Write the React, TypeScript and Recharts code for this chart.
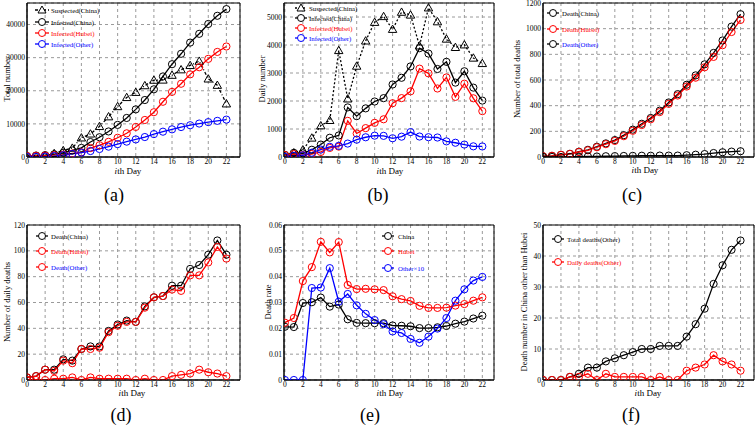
import React from 'react';
import { LineChart, Line, XAxis, YAxis, CartesianGrid, ReferenceArea } from 'recharts';

// ---------------- data ----------------
const days = [0, 1, 2, 3, 4, 5, 6, 7, 8, 9, 10, 11, 12, 13, 14, 15, 16, 17, 18, 19, 20, 21, 22];
const xTickLabels = [0, 2, 4, 6, 8, 10, 12, 14, 16, 18, 20, 22];

// (a) cumulative numbers
const suspectedTotal = [54, 37, 393, 1072, 1965, 2684, 5794, 6973, 9239, 12167, 15238, 17988, 19544, 21558, 23214, 23260, 24702, 26359, 27657, 28942, 23589, 21675, 16067];
const infectedChinaTotal = [291, 440, 571, 830, 1287, 1975, 2744, 4515, 5974, 7711, 9692, 11791, 14380, 17205, 20438, 24324, 28018, 31161, 34546, 37198, 40171, 42638, 44653];
const infectedHubeiTotal = [270, 375, 444, 549, 729, 1052, 1423, 2714, 3554, 4586, 5806, 7153, 9074, 11177, 13522, 16678, 19665, 22112, 24953, 27100, 29631, 31728, 33366];
const infectedOtherTotal = [21, 65, 127, 281, 558, 923, 1321, 1801, 2420, 3125, 3886, 4638, 5306, 6028, 6916, 7646, 8353, 9049, 9593, 10098, 10540, 10910, 11287];

// (b) daily numbers
const suspectedDaily = [27, 150, 257, 680, 1118, 1309, 3806, 2077, 3248, 4148, 4812, 5019, 4562, 5173, 5072, 3971, 5328, 4833, 4214, 3916, 4008, 3536, 3342];
const infectedChinaDaily = [77, 149, 131, 259, 444, 688, 769, 1771, 1459, 1737, 1982, 2102, 2590, 2829, 3235, 3887, 3694, 3143, 3399, 2656, 3062, 2478, 2015];
const infectedHubeiDaily = [72, 105, 69, 105, 180, 323, 371, 1291, 840, 1032, 1220, 1347, 1921, 2103, 2345, 3156, 2987, 2447, 2841, 2147, 2618, 2097, 1638];
const infectedOtherDaily = [5, 44, 62, 154, 264, 365, 398, 480, 619, 705, 762, 755, 669, 726, 890, 731, 707, 696, 558, 509, 444, 381, 377];

// (c) cumulative deaths
const deathChinaTotal = [6, 9, 17, 25, 41, 56, 80, 106, 132, 170, 213, 259, 304, 361, 425, 490, 563, 636, 722, 811, 908, 1016, 1113];
const deathHubeiTotal = [6, 9, 17, 24, 39, 52, 76, 100, 125, 162, 204, 249, 294, 350, 414, 479, 549, 618, 699, 780, 871, 974, 1068];
const deathOtherTotal = [0, 0, 0, 1, 2, 4, 4, 6, 7, 8, 9, 10, 10, 11, 11, 11, 14, 18, 23, 31, 37, 42, 45];

// (d) daily deaths
const deathChinaDaily = [2, 3, 8, 8, 16, 15, 24, 26, 26, 38, 43, 46, 45, 57, 64, 65, 73, 73, 86, 89, 97, 108, 97];
const deathHubeiDaily = [2, 3, 8, 7, 15, 13, 24, 24, 25, 37, 42, 45, 45, 56, 64, 65, 70, 69, 81, 81, 91, 103, 94];
const deathOtherDaily = [0, 0, 0, 1, 1, 2, 0, 2, 1, 1, 1, 1, 0, 1, 0, 0, 3, 4, 5, 8, 6, 5, 3];

// (e) death rates
const rateChina = [0.0206, 0.0205, 0.0298, 0.0301, 0.0319, 0.0284, 0.0292, 0.0235, 0.0221, 0.022, 0.022, 0.022, 0.0211, 0.021, 0.0208, 0.0201, 0.0201, 0.0204, 0.0209, 0.0218, 0.0226, 0.0238, 0.0249];
const rateHubei = [0.0222, 0.024, 0.0383, 0.0437, 0.0535, 0.0494, 0.0534, 0.0368, 0.0352, 0.0353, 0.0351, 0.0348, 0.0324, 0.0313, 0.0306, 0.0287, 0.0279, 0.0279, 0.028, 0.0288, 0.0294, 0.0307, 0.032];
const rateOtherX10 = [0, 0, 0, 0.0356, 0.0358, 0.0433, 0.0303, 0.0333, 0.0289, 0.0256, 0.0232, 0.0216, 0.0188, 0.0182, 0.0159, 0.0144, 0.0168, 0.0199, 0.024, 0.0307, 0.0351, 0.0385, 0.0399];

// y tick labels
const yTicksA = [0, 10000, 20000, 30000, 40000];
const yTicksB = [0, 1000, 2000, 3000, 4000, 5000];
const yTicksC = [0, 200, 400, 600, 800, 1000, 1200];
const yTicksD = [0, 20, 40, 60, 80, 100, 120];
const yTicksE = [0, 0.01, 0.02, 0.03, 0.04, 0.05, 0.06];
const yTicksF = [0, 10, 20, 30, 40, 50];

// ---------------- styles ----------------
const FONT = '"Liberation Serif", "Times New Roman", serif';
const BLACK = '#000000';
const RED = '#ff0000';
const BLUE = '#0000ff';
const YW = 30;
const MT = 8;
const MR = 2;
const XH = 20;

type Marker = 'circle' | 'triangle';
type Series = { key: string; values: number[]; color: string; dash?: string; marker: Marker; name: string; textColor: string };
type PanelCfg = {
  id: string;
  plot: { x: number; y: number; w: number; h: number };
  xDomain: [number, number];
  yDomain: [number, number];
  yTicks: number[];
  yMinorStep: number;
  series: Series[];
  legend: { x0: number; x1: number; tx: number; rows: number[] };
  xTitle: { x: number; y: number };
  yTitle: { x: number; y: number; text: string };
  tag: { x: number; y: number; text: string };
};

const TriangleDot = (props: any) => {
  const { cx, cy, stroke, index } = props;
  if (cx == null || cy == null) return <g key={`t-${index}`} />;
  const s = 4.2;
  return (
    <polygon
      key={`t-${index}`}
      points={`${cx},${cy - s} ${cx - s},${cy + s * 0.75} ${cx + s},${cy + s * 0.75}`}
      fill="none"
      stroke={stroke}
      strokeWidth={1}
    />
  );
};

const panels: PanelCfg[] = [
  {
    id: 'a',
    plot: { x: 27, y: 3, w: 213, h: 154 },
    xDomain: [0, 23.5],
    yDomain: [0, 46500],
    yTicks: yTicksA,
    yMinorStep: 2000,
    series: [
      { key: 's', values: suspectedTotal, color: BLACK, dash: '3 2 1 2', marker: 'triangle', name: 'Suspected(China)', textColor: BLACK },
      { key: 'c', values: infectedChinaTotal, color: BLACK, marker: 'circle', name: 'Infected(China)', textColor: BLACK },
      { key: 'h', values: infectedHubeiTotal, color: RED, marker: 'circle', name: 'Infected(Hubei)', textColor: RED },
      { key: 'o', values: infectedOtherTotal, color: BLUE, marker: 'circle', name: 'Infected(Other)', textColor: BLUE },
    ],
    legend: { x0: 35, x1: 49, tx: 51, rows: [10, 22, 33, 44] },
    xTitle: { x: 128, y: 170.5 },
    yTitle: { x: 7, y: 79, text: 'Total number' },
    tag: { x: 114, y: 195, text: '(a)' },
  },
  {
    id: 'b',
    plot: { x: 284, y: 3, w: 210, h: 154 },
    xDomain: [-0.1, 23.3],
    yDomain: [0, 5500],
    yTicks: yTicksB,
    yMinorStep: 200,
    series: [
      { key: 's', values: suspectedDaily, color: BLACK, dash: '2 2', marker: 'triangle', name: 'Suspected(China)', textColor: BLACK },
      { key: 'c', values: infectedChinaDaily, color: BLACK, marker: 'circle', name: 'Infected(China)', textColor: BLACK },
      { key: 'h', values: infectedHubeiDaily, color: RED, marker: 'circle', name: 'Infected(Hubei)', textColor: RED },
      { key: 'o', values: infectedOtherDaily, color: BLUE, marker: 'circle', name: 'Infected(Other)', textColor: BLUE },
    ],
    legend: { x0: 295, x1: 307, tx: 309, rows: [8, 18, 28, 38] },
    xTitle: { x: 390, y: 170.5 },
    yTitle: { x: 262, y: 79, text: 'Daily number' },
    tag: { x: 378, y: 195, text: '(b)' },
  },
  {
    id: 'c',
    plot: { x: 543, y: 3, w: 211, h: 154 },
    xDomain: [0, 23.5],
    yDomain: [0, 1200],
    yTicks: yTicksC,
    yMinorStep: 40,
    series: [
      { key: 'c', values: deathChinaTotal, color: BLACK, marker: 'circle', name: 'Death(China)', textColor: BLACK },
      { key: 'h', values: deathHubeiTotal, color: RED, marker: 'circle', name: 'Death(Hubei)', textColor: RED },
      { key: 'o', values: deathOtherTotal, color: BLACK, marker: 'circle', name: 'Death(Other)', textColor: BLUE },
    ],
    legend: { x0: 547, x1: 559, tx: 562, rows: [13, 29, 44] },
    xTitle: { x: 645, y: 170 },
    yTitle: { x: 517, y: 79, text: 'Number of total deaths' },
    tag: { x: 632, y: 195, text: '(c)' },
  },
  {
    id: 'd',
    plot: { x: 27, y: 225, w: 213, h: 155 },
    xDomain: [0, 23.5],
    yDomain: [0, 120],
    yTicks: yTicksD,
    yMinorStep: 4,
    series: [
      { key: 'c', values: deathChinaDaily, color: BLACK, marker: 'circle', name: 'Death(China)', textColor: BLACK },
      { key: 'h', values: deathHubeiDaily, color: RED, marker: 'circle', name: 'Death(Hubei)', textColor: RED },
      { key: 'o', values: deathOtherDaily, color: RED, marker: 'circle', name: 'Death(Other)', textColor: BLUE },
    ],
    legend: { x0: 36, x1: 48, tx: 51, rows: [236, 251, 267] },
    xTitle: { x: 132, y: 393 },
    yTitle: { x: 7, y: 302, text: 'Number of daily deaths' },
    tag: { x: 121, y: 415, text: '(d)' },
  },
  {
    id: 'e',
    plot: { x: 284, y: 225, w: 210, h: 155 },
    xDomain: [-0.1, 23.3],
    yDomain: [0, 0.06],
    yTicks: yTicksE,
    yMinorStep: 0.002,
    series: [
      { key: 'c', values: rateChina, color: BLACK, marker: 'circle', name: 'China', textColor: BLACK },
      { key: 'h', values: rateHubei, color: RED, marker: 'circle', name: 'Hubei', textColor: RED },
      { key: 'o', values: rateOtherX10, color: BLUE, marker: 'circle', name: 'Other\u00d710', textColor: BLUE },
    ],
    legend: { x0: 382, x1: 394, tx: 398, rows: [236, 251, 268] },
    xTitle: { x: 390, y: 393 },
    yTitle: { x: 268, y: 302, text: 'Death rate' },
    tag: { x: 370, y: 415, text: '(e)' },
  },
  {
    id: 'f',
    plot: { x: 543, y: 225, w: 211, h: 155 },
    xDomain: [0, 23.5],
    yDomain: [0, 50],
    yTicks: yTicksF,
    yMinorStep: 2,
    series: [
      { key: 't', values: deathOtherTotal, color: BLACK, marker: 'circle', name: 'Total deaths(Other)', textColor: BLACK },
      { key: 'd', values: deathOtherDaily, color: RED, marker: 'circle', name: 'Daily deaths(Other)', textColor: RED },
    ],
    legend: { x0: 552, x1: 564, tx: 567, rows: [239, 262] },
    xTitle: { x: 648, y: 393 },
    yTitle: { x: 524, y: 302, text: 'Death number in China other than Hubei' },
    tag: { x: 631, y: 415, text: '(f)' },
  },
];

const emptyTick = () => <g />;
const tickStyle = { fontSize: 7.5, fontFamily: FONT, fill: '#000' };

function steps(from: number, to: number, step: number): number[] {
  const out: number[] = [];
  const n = Math.floor((to - from) / step + 1e-6);
  for (let i = 0; i <= n; i++) out.push(+(from + i * step).toFixed(6));
  return out;
}

function fmtY(v: number) {
  if (v === 0) return '0';
  return String(+v.toFixed(4));
}

function renderPanel(cfg: PanelCfg) {
  const data = days.map((d, i) => {
    const row: Record<string, number> = { day: d };
    cfg.series.forEach((s) => {
      row[s.key] = s.values[i];
    });
    return row;
  });
  const xMinor = steps(0, cfg.xDomain[1], 0.5);
  const yMinor = steps(0, cfg.yDomain[1], cfg.yMinorStep);
  const W = YW + cfg.plot.w + MR;
  const H = MT + cfg.plot.h + XH;
  return (
    <div key={cfg.id} style={{ position: 'absolute', left: cfg.plot.x - YW, top: cfg.plot.y - MT, width: W, height: H }}>
      <LineChart width={W} height={H} data={data} margin={{ top: MT, right: MR, left: 0, bottom: 0 }}>
        <XAxis xAxisId="xmin" type="number" domain={cfg.xDomain} allowDataOverflow ticks={xMinor} mirror height={0} axisLine={false} tickSize={2.5} tick={emptyTick} tickLine={{ stroke: '#000' }} />
        <XAxis xAxisId="xmaj" type="number" domain={cfg.xDomain} allowDataOverflow ticks={xTickLabels} mirror height={0} axisLine={false} tickSize={5} tick={emptyTick} tickLine={{ stroke: '#000' }} />
        <YAxis yAxisId="ymin" type="number" domain={cfg.yDomain} allowDataOverflow ticks={yMinor} mirror width={0} axisLine={false} tickSize={2.5} tick={emptyTick} tickLine={{ stroke: '#000' }} />
        <YAxis yAxisId="ymaj" type="number" domain={cfg.yDomain} allowDataOverflow ticks={cfg.yTicks} mirror width={0} axisLine={false} tickSize={5} tick={emptyTick} tickLine={{ stroke: '#000' }} />
        <XAxis
          dataKey="day"
          type="number"
          domain={cfg.xDomain}
          allowDataOverflow
          ticks={xTickLabels}
          interval={0}
          height={XH}
          tickLine={false}
          tickSize={0}
          tickMargin={2}
          tick={tickStyle}
          axisLine={{ stroke: '#000' }}
        />
        <YAxis
          type="number"
          domain={cfg.yDomain}
          allowDataOverflow
          ticks={cfg.yTicks}
          interval={0}
          width={YW}
          tickLine={false}
          tickSize={0}
          tickMargin={2}
          tick={tickStyle}
          tickFormatter={fmtY}
          axisLine={{ stroke: '#000' }}
        />
        <CartesianGrid stroke="#9a9a9a" strokeDasharray="3 3" />
        <ReferenceArea x1={cfg.xDomain[0]} x2={cfg.xDomain[1]} y1={cfg.yDomain[0]} y2={cfg.yDomain[1]} fill="none" stroke="#000" strokeWidth={1} />
        {cfg.series.map((s) => (
          <Line
            key={s.key}
            dataKey={s.key}
            type="linear"
            stroke={s.color}
            strokeWidth={1.3}
            strokeDasharray={s.dash}
            isAnimationActive={false}
            dot={s.marker === 'triangle' ? TriangleDot : { r: 3.6, fill: 'none', stroke: s.color, strokeWidth: 1 }}
            activeDot={false}
          />
        ))}
      </LineChart>
    </div>
  );
}

function LegendMarker({ m, x, y, color }: { m: Marker; x: number; y: number; color: string }) {
  if (m === 'triangle') {
    const s = 4;
    return <polygon points={`${x},${y - s} ${x - s},${y + s * 0.75} ${x + s},${y + s * 0.75}`} fill="#fff" stroke={color} strokeWidth={1} />;
  }
  return <circle cx={x} cy={y} r={3.5} fill="#fff" stroke={color} strokeWidth={1} />;
}

function Overlay() {
  return (
    <svg width={756} height={425} style={{ position: 'absolute', left: 0, top: 0, pointerEvents: 'none' }}>
      {panels.map((p) => (
        <g key={p.id} fontFamily={FONT}>
          {p.series.map((s, i) => {
            const y = p.legend.rows[i];
            const mx = (p.legend.x0 + p.legend.x1) / 2;
            return (
              <g key={s.key}>
                <line x1={p.legend.x0} x2={p.legend.x1} y1={y} y2={y} stroke={s.color} strokeWidth={1.3} strokeDasharray={s.dash} />
                <LegendMarker m={s.marker} x={mx} y={y} color={s.color} />
                <text x={p.legend.tx} y={y} fontSize={6.8} fill={s.textColor} dominantBaseline="central">
                  {s.name}
                </text>
              </g>
            );
          })}
          <text x={p.xTitle.x} y={p.xTitle.y} fontSize={9} textAnchor="middle" dominantBaseline="central" fill="#000">
            <tspan fontStyle="italic">i</tspan>th Day
          </text>
          <text
            x={p.yTitle.x}
            y={p.yTitle.y}
            fontSize={8.5}
            textAnchor="middle"
            dominantBaseline="central"
            fill="#000"
            transform={`rotate(-90 ${p.yTitle.x} ${p.yTitle.y})`}
          >
            {p.yTitle.text}
          </text>
          <text x={p.tag.x} y={p.tag.y} fontSize={18} textAnchor="middle" dominantBaseline="central" fill="#000">
            {p.tag.text}
          </text>
        </g>
      ))}
    </svg>
  );
}

export default function App() {
  return (
    <div style={{ position: 'absolute', left: 0, top: 0, width: 756, height: 425, background: '#fff', overflow: 'hidden' }}>
      {panels.map((p) => renderPanel(p))}
      <Overlay />
    </div>
  );
}
